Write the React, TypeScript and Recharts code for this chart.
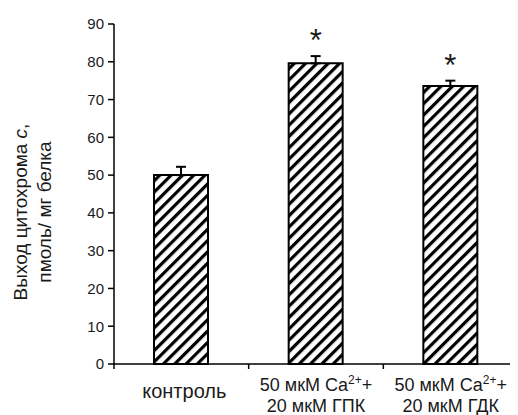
import React from 'react';
import { ComposedChart, Bar, XAxis, YAxis, ErrorBar, LabelList, Label } from 'recharts';

// groups and measured values (pmol / mg protein)
const categories = ['контроль', 'Ca + ГПК', 'Ca + ГДК'];
const tickLabels: string[][] = [
  ['контроль'],
  ['50 мкМ Ca^2+^+', '20 мкМ ГПК'],
  ['50 мкМ Ca^2+^+', '20 мкМ ГДК'],
];
const values = [50, 79.6, 73.6];
const errors = [2.2, 1.9, 1.4];
const stars = ['', '*', '*'];
const yTicks = [0, 10, 20, 30, 40, 50, 60, 70, 80, 90];

const data = categories.map((name, i) => ({
  name,
  value: values[i],
  err: [0, errors[i]],
  star: stars[i],
}));

const FONT = '"Liberation Sans", Arial, sans-serif';
const INK = '#1a1a1a';

// "^...^" marks a superscript part
const renderLine = (line: string) =>
  line.split('^').map((part, k) =>
    k % 2 === 1 ? (
      <tspan key={k} fontSize={12} dy={-7}>{part}</tspan>
    ) : (
      <tspan key={k} dy={k > 0 ? 7 : 0}>{part}</tspan>
    )
  );

const XTick = (props: any) => {
  const { x, y, payload, width, visibleTicksCount } = props;
  const idx = categories.indexOf(payload.value);
  const lines = tickLabels[idx] || [String(payload.value)];
  const band = width / visibleTicksCount;
  const axisY = y - 5;
  const single = lines.length === 1;
  return (
    <g>
      <line x1={x - band / 2} x2={x - band / 2} y1={axisY} y2={axisY + 5} stroke="#000" strokeWidth={1.5} />
      {idx === categories.length - 1 && (
        <line x1={x + band / 2} x2={x + band / 2} y1={axisY} y2={axisY + 5} stroke="#000" strokeWidth={1.5} />
      )}
      {lines.map((ln, i) => (
        <text
          key={i}
          x={single ? x + 3 : x}
          y={single ? axisY + 34 : axisY + 27 + i * 21}
          textAnchor="middle"
          fontSize={single ? 20 : 18}
          fontFamily={FONT}
          fill={INK}
        >
          {renderLine(ln)}
        </text>
      ))}
    </g>
  );
};

const YLabel = (props: any) => {
  const { viewBox } = props;
  const cy = viewBox.y + viewBox.height / 2 + 18;
  const x1 = viewBox.x + 12;
  const x2 = viewBox.x + 36;
  return (
    <g fontFamily={FONT} fontSize={19} fill={INK}>
      <text x={x1} y={cy} textAnchor="middle" dominantBaseline="central" transform={`rotate(-90 ${x1} ${cy})`}>
        Выход цитохрома <tspan fontStyle="italic">с</tspan>,
      </text>
      <text x={x2} y={cy} textAnchor="middle" dominantBaseline="central" transform={`rotate(-90 ${x2} ${cy})`}>
        пмоль/ мг белка
      </text>
    </g>
  );
};

const Star = (props: any) => {
  const { x, y, width, height, value, index } = props;
  if (!value) return null;
  const perUnit = height / values[index];
  const top = y - errors[index] * perUnit;
  return (
    <text x={x + width / 2} y={top - 5} textAnchor="middle" fontSize={31} fontFamily={FONT} fill={INK}>
      {value}
    </text>
  );
};

export default function App() {
  return (
    <div style={{ width: 510, height: 407 }}>
      <svg width={0} height={0} style={{ position: 'absolute' }}>
        <defs>
          <pattern id="hatch" patternUnits="userSpaceOnUse" width={8} height={8} patternTransform="rotate(45)">
            <rect width={8} height={8} fill="#fff" />
            <rect x={0} y={0} width={3.2} height={8} fill="#000" />
          </pattern>
        </defs>
      </svg>
      <ComposedChart width={510} height={407} data={data} margin={{ top: 16, right: 0, bottom: 0, left: 0 }}>
        <XAxis
          dataKey="name"
          height={51}
          axisLine={{ stroke: '#000', strokeWidth: 1.5 }}
          tickLine={false}
          tickSize={5}
          tickMargin={0}
          interval={0}
          tick={<XTick />}
        />
        <YAxis
          width={106}
          domain={[0, 90]}
          ticks={yTicks}
          interval={0}
          axisLine={{ stroke: '#000', strokeWidth: 1.5 }}
          tickLine={{ stroke: '#000', strokeWidth: 1.5 }}
          tickSize={6}
          tickMargin={4}
          tick={{ fontSize: 15, fontFamily: FONT, fill: INK }}
        >
          <Label content={<YLabel />} />
        </YAxis>
        <Bar dataKey="value" barSize={54} fill="url(#hatch)" stroke="#000" strokeWidth={2} isAnimationActive={false}>
          <ErrorBar dataKey="err" width={5} stroke="#000" strokeWidth={2} direction="y" />
          <LabelList dataKey="star" content={<Star />} />
        </Bar>
      </ComposedChart>
    </div>
  );
}
